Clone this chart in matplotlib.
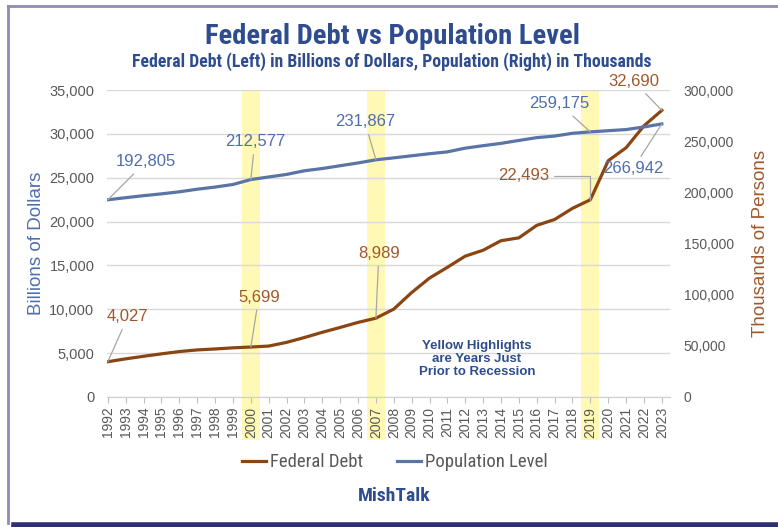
import matplotlib
matplotlib.use('Agg')
import matplotlib.pyplot as plt
from matplotlib.lines import Line2D

years = list(range(1992, 2024))
federal_debt = [4027, 4351, 4643, 4921, 5181, 5369, 5478, 5606, 5699, 5807,
                6229, 6783, 7379, 7933, 8507, 8989, 10025, 11910, 13562, 14790,
                16066, 16738, 17824, 18151, 19573, 20245, 21516, 22493, 26945,
                28429, 30929, 32690]
population = [192805, 194838, 196814, 198584, 200591, 203133, 205220, 207753,
              212577, 215092, 217570, 221168, 223357, 226082, 228815, 231867,
              233788, 235801, 237830, 239618, 243284, 245679, 247947, 250801,
              253538, 255079, 257791, 259175, 260329, 261445, 263973, 266942]
recession_years = [2000, 2007, 2019]

DEBT_COLOR = '#8B4513'
DEBT_TEXT = '#A0582A'
POP_COLOR = '#5A74A6'
POP_TEXT = '#4F6EAE'
TITLE_COLOR = '#2E4C8E'
GRAY = '#595959'
CONDENSED = ['Roboto Condensed', 'Liberation Sans']

plt.rcParams['font.family'] = ['Liberation Sans', 'DejaVu Sans']

fig = plt.figure(figsize=(7.78, 5.27), dpi=100)
ax = fig.add_axes([0.1375, 0.2467, 0.7235, 0.5823])
ax2 = ax.twinx()

for y in recession_years:
    ax.axvspan(y - 0.5, y + 0.5, ymin=-0.14, ymax=1, color='#FFF9B5',
               zorder=0, clip_on=False, lw=0)

ax.plot(years, federal_debt, color=DEBT_COLOR, lw=2.3, zorder=3)
ax2.plot(years, population, color=POP_COLOR, lw=2.3, zorder=3)

ax.set_xlim(1991.95, 2023.45)
ax.set_ylim(0, 35000)
ax2.set_ylim(0, 300000)
ax.set_yticks(range(0, 35001, 5000))
ax2.set_yticks(range(0, 300001, 50000))
ax.yaxis.set_major_formatter(matplotlib.ticker.StrMethodFormatter('{x:,.0f}'))
ax2.yaxis.set_major_formatter(matplotlib.ticker.StrMethodFormatter('{x:,.0f}'))
ax.set_xticks(years)
ax.set_xticklabels([str(y) for y in years], rotation=90)

ax.grid(axis='y', color='#D9D9D9', lw=1)
ax.set_axisbelow(True)
for a in (ax, ax2):
    for s in a.spines.values():
        s.set_visible(False)
ax.spines['bottom'].set_visible(True)
ax.spines['bottom'].set_color('#D0D0D0')
ax.tick_params(axis='x', colors='#BFBFBF', length=4, labelcolor=GRAY,
               labelsize=10, pad=3)
ax.tick_params(axis='y', length=0, labelcolor=GRAY, labelsize=10.5, pad=9)
ax2.tick_params(axis='y', length=0, labelcolor=GRAY, labelsize=10, pad=10)

ax.set_ylabel('Billions of Dollars', color=POP_TEXT, fontsize=13.5)
ax.yaxis.set_label_coords(-0.11, 0.5)
ax2.set_ylabel('Thousands of Persons', color=DEBT_TEXT, fontsize=13.5)
ax2.yaxis.set_label_coords(1.146, 0.5)

lead = dict(arrowstyle='-', color='#A6A6A6', lw=0.9, shrinkA=2, shrinkB=0)

# population labels (value, offset in pixels)
pop_notes = [(1992, (38, 38)), (2000, (4, 38)), (2007, (-11, 38)),
             (2019, (-31, 28)), (2023, (-29, -45))]
for yr, off in pop_notes:
    v = population[years.index(yr)]
    ax2.annotate(f'{v:,}', xy=(yr, v), xytext=off, textcoords='offset pixels',
                 ha='center', va='center', color=POP_TEXT, fontsize=12,
                 arrowprops=lead, zorder=5)

debt_notes = [(1992, (20, 45)), (2000, (8, 50)), (2007, (3, 65)),
              (2023, (-28, 29))]
for yr, off in debt_notes:
    v = federal_debt[years.index(yr)]
    ax.annotate(f'{v:,}', xy=(yr, v), xytext=off, textcoords='offset pixels',
                ha='center', va='center', color=DEBT_TEXT, fontsize=12,
                arrowprops=lead, zorder=5)
# 2019 debt label has an elbow leader
v = federal_debt[years.index(2019)]
ax.annotate(f'{v:,}', xy=(2019, v), xytext=(-67, 24), textcoords='offset pixels',
            ha='center', va='center', color=DEBT_TEXT, fontsize=12, zorder=5,
            arrowprops=dict(arrowstyle='-', color='#A6A6A6', lw=0.9,
                            shrinkA=2, shrinkB=0, relpos=(1, 0.5),
                            connectionstyle='angle,angleA=0,angleB=90,rad=0'))

ax.text(0.657, 0.125, 'Yellow Highlights\nare Years Just\nPrior to Recession',
        transform=ax.transAxes, ha='center', va='center', color=TITLE_COLOR,
        fontsize=9.5, fontweight='bold', linespacing=1.1)

fig.text(0.504, 0.930, 'Federal Debt vs Population Level', ha='center',
         va='center', color=TITLE_COLOR, fontsize=20.5, fontweight='bold',
         family=CONDENSED)
fig.text(0.504, 0.884,
         'Federal Debt (Left) in Billions of Dollars, Population (Right) in Thousands',
         ha='center', va='center', color=TITLE_COLOR, fontsize=12.8,
         fontweight='bold', family=CONDENSED)

handles = [Line2D([], [], color=DEBT_COLOR, lw=2.3),
           Line2D([], [], color=POP_COLOR, lw=2.3)]
fig.legend(handles, ['Federal Debt', 'Population Level'], loc='center',
           bbox_to_anchor=(0.507, 0.123), ncol=2, frameon=False,
           handlelength=1.3, handletextpad=0.2, columnspacing=1.8,
           prop={'family': CONDENSED, 'size': 13.5}, labelcolor=GRAY)
fig.text(0.507, 0.058, 'MishTalk', ha='center', va='center',
         color=TITLE_COLOR, fontsize=14, fontweight='bold', family=CONDENSED)

# frame around the picture
fig.add_artist(Line2D([7.5 / 778, 1], [1 - 6 / 527, 1 - 6 / 527],
                      color='#8C8CB4', lw=2, transform=fig.transFigure))
fig.add_artist(Line2D([8 / 778, 8 / 778], [1 - 6 / 527, 4 / 527],
                      color='#8C8CB4', lw=2, transform=fig.transFigure))
fig.add_artist(Line2D([14 / 778, 1], [2.5 / 527, 2.5 / 527],
                      color='#2E3070', lw=4, transform=fig.transFigure))

fig.savefig('out.png', dpi=100)
